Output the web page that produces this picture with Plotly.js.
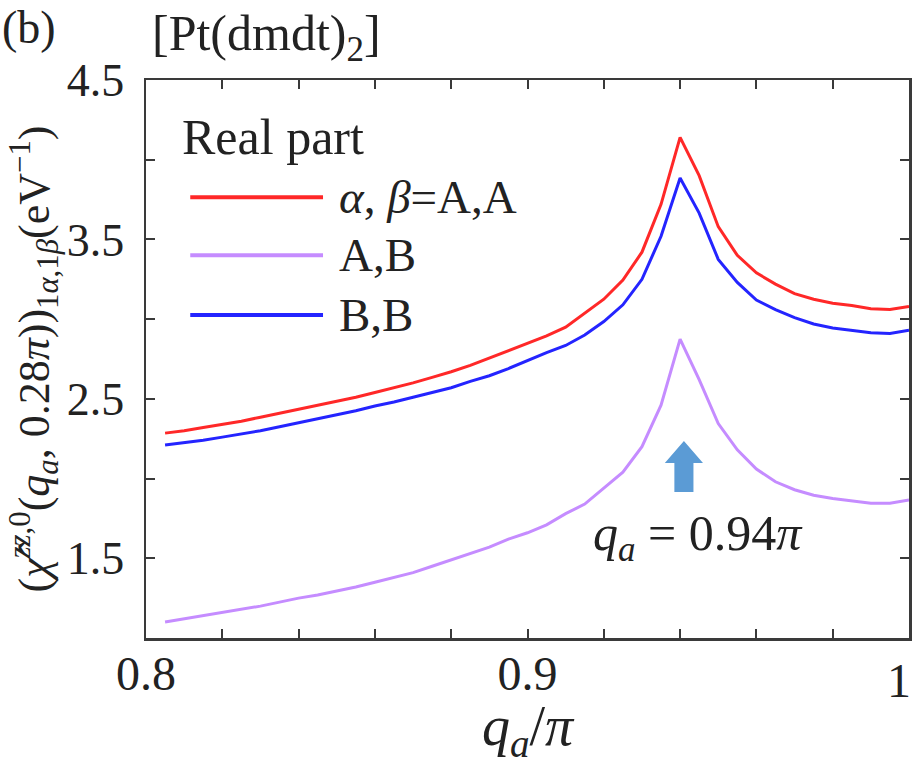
<!DOCTYPE html>
<html>
<head>
<meta charset="utf-8">
<script src="https://cdn.plot.ly/plotly-3.0.1.min.js"></script>
<style>
  html, body { margin: 0; padding: 0; background: #fff; }
  #chart { width: 916px; height: 765px; }
</style>
</head>
<body>
<div id="chart"></div>
<script>
// q_a / pi grid
const qa = [0.805, 0.810, 0.815, 0.820, 0.825, 0.830, 0.835, 0.840, 0.845, 0.850,
            0.855, 0.860, 0.865, 0.870, 0.875, 0.880, 0.885, 0.890, 0.895, 0.900,
            0.905, 0.910, 0.915, 0.920, 0.925, 0.930, 0.935, 0.940, 0.945, 0.950,
            0.955, 0.960, 0.965, 0.970, 0.975, 0.980, 0.985, 0.990, 0.995, 1.000];

// real part, alpha,beta = A,A
const reAA = [2.285, 2.300, 2.320, 2.340, 2.360, 2.385, 2.410, 2.435, 2.460, 2.485,
              2.510, 2.540, 2.570, 2.600, 2.635, 2.670, 2.710, 2.755, 2.800, 2.850,
              2.895, 2.950, 3.035, 3.125, 3.245, 3.420, 3.720, 4.140, 3.900, 3.580,
              3.400, 3.290, 3.220, 3.160, 3.125, 3.100, 3.085, 3.065, 3.060, 3.080];

// A,B
const reAB = [1.100, 1.120, 1.140, 1.160, 1.180, 1.200, 1.225, 1.250, 1.270, 1.295,
              1.320, 1.350, 1.380, 1.410, 1.450, 1.490, 1.530, 1.570, 1.620, 1.660,
              1.710, 1.780, 1.840, 1.940, 2.040, 2.200, 2.460, 2.875, 2.620, 2.345,
              2.180, 2.060, 1.980, 1.930, 1.895, 1.875, 1.860, 1.845, 1.845, 1.865];

// B,B
const reBB = [2.210, 2.225, 2.240, 2.260, 2.280, 2.300, 2.325, 2.350, 2.375, 2.400,
              2.425, 2.455, 2.480, 2.510, 2.540, 2.570, 2.610, 2.645, 2.690, 2.740,
              2.790, 2.835, 2.900, 2.985, 3.090, 3.250, 3.520, 3.885, 3.665, 3.375,
              3.230, 3.120, 3.060, 3.010, 2.970, 2.945, 2.930, 2.915, 2.910, 2.930];

const seriesNames = ['<i>α</i>, <i>β</i>=A,A', 'A,B', 'B,B'];
const seriesColors = ['#ff2828', '#c58cff', '#2424ff'];
const seriesData = [reAA, reAB, reBB];

const xTickVals = [0.80, 0.82, 0.84, 0.86, 0.88, 0.90, 0.92, 0.94, 0.96, 0.98, 1.00];
const xTickText = ['0.8', '', '', '', '', '0.9', '', '', '', '', '1'];
const yTickVals = [1.5, 2.0, 2.5, 3.0, 3.5, 4.0, 4.5];
const yTickText = ['1.5', '', '2.5', '', '3.5', '', '4.5'];

const FONT = 'Liberation Serif, Times New Roman, serif';
const INK = '#222222';
const AXIS_COLOR = '#3a3a3a';

const traces = seriesData.map((ys, i) => ({
    x: qa,
    y: ys,
    type: 'scatter',
    mode: 'lines',
    name: seriesNames[i],
    line: { color: seriesColors[i], width: 3 },
    showlegend: false,
    hoverinfo: 'skip',
}));

// Hand-built legend (long line keys like the original)
const legendShapes = [];
const legendNotes = [
    { xref: 'paper', yref: 'paper', x: 0.044, y: 0.898, xanchor: 'left', yanchor: 'middle',
      text: 'Real part', showarrow: false, font: { family: FONT, size: 50, color: INK } },
];
const legendRows = [0.790, 0.686, 0.579];
seriesNames.forEach((name, i) => {
    legendShapes.push({
        type: 'line', xref: 'paper', yref: 'paper',
        x0: 0.058, x1: 0.232, y0: legendRows[i], y1: legendRows[i],
        line: { color: seriesColors[i], width: 4 },
    });
    legendNotes.push({
        xref: 'paper', yref: 'paper', x: 0.250, y: legendRows[i],
        xanchor: 'left', yanchor: 'middle', showarrow: false,
        text: name, font: { family: FONT, size: 47, color: INK },
    });
});

// the last x tick label sits flush with the right edge, so it is drawn right-aligned
const lastX = xTickVals[xTickVals.length - 1];
const lastXLabel = xTickText[xTickText.length - 1];
const xTickTextShown = xTickText.slice(0, -1).concat(['']);

// Block arrow pointing at the peak
const arrowX = 0.941, arrowTip = 2.235, arrowNeck = 2.097, arrowBase = 1.915;
const headHalf = 0.005, shaftHalf = 0.0025;
const arrowPath = `M ${arrowX - shaftHalf},${arrowBase} L ${arrowX - shaftHalf},${arrowNeck} ` +
    `L ${arrowX - headHalf},${arrowNeck} L ${arrowX},${arrowTip} L ${arrowX + headHalf},${arrowNeck} ` +
    `L ${arrowX + shaftHalf},${arrowNeck} L ${arrowX + shaftHalf},${arrowBase} Z`;

const layout = {
    width: 916,
    height: 765,
    margin: { l: 146, r: 7, t: 80, b: 127 },
    paper_bgcolor: '#ffffff',
    plot_bgcolor: '#ffffff',
    font: { family: FONT, color: INK },
    showlegend: false,
    xaxis: {
        range: [0.8, 1.0],
        tickvals: xTickVals,
        ticktext: xTickTextShown,
        ticks: 'inside',
        ticklen: 9,
        tickwidth: 2,
        tickcolor: AXIS_COLOR,
        ticklabelstandoff: -8,
        showline: true,
        linecolor: AXIS_COLOR,
        linewidth: 2.5,
        mirror: 'ticks',
        showgrid: false,
        zeroline: false,
        tickfont: { size: 48, family: FONT, color: INK },
        title: {
            text: '<i>q</i><sub><i>a</i></sub>/<i>π</i>',
            font: { size: 56, family: FONT, color: INK },
            standoff: 14,
        },
    },
    yaxis: {
        range: [1.0, 4.5],
        tickvals: yTickVals,
        ticktext: yTickText,
        ticks: 'inside',
        ticklen: 9,
        tickwidth: 2,
        tickcolor: AXIS_COLOR,
        ticklabelstandoff: 10,
        showline: true,
        linecolor: AXIS_COLOR,
        linewidth: 2.5,
        mirror: 'ticks',
        showgrid: false,
        zeroline: false,
        tickfont: { size: 46, family: FONT, color: INK },
        title: {
            text: '(<i>χ̂</i><sup><i>zz</i>,0</sup>(<i>q</i><sub><i>a</i></sub>, 0.28<i>π</i>))<sub>1<i>α</i>,1<i>β</i></sub>(eV<sup>−1</sup>)',
            font: { size: 44, family: FONT, color: INK },
            standoff: 4,
        },
    },
    shapes: [
        ...legendShapes,
        { type: 'path', xref: 'x', yref: 'y', path: arrowPath,
          fillcolor: '#5b9bd5', line: { width: 0 } },
    ],
    annotations: [
        ...legendNotes,
        { xref: 'x', yref: 'paper', x: lastX, y: -0.025, showarrow: false,
          xanchor: 'right', yanchor: 'top', xshift: 4,
          text: lastXLabel, font: { family: FONT, size: 48, color: INK } },
        { xref: 'x', yref: 'y', x: 0.9447, y: 1.633, showarrow: false,
          text: '<i>q</i><sub><i>a</i></sub> = 0.94<i>π</i>', font: { family: FONT, size: 50, color: INK } },
        { xref: 'paper', yref: 'paper', x: -0.192, y: 1.1434, showarrow: false,
          xanchor: 'left', yanchor: 'top', text: '(b)', font: { family: FONT, size: 46, color: INK } },
        { xref: 'paper', yref: 'paper', x: 0.005, y: 1.077, showarrow: false,
          xanchor: 'left', yanchor: 'middle', text: '[Pt(dmdt)<sub>2</sub>]', font: { family: FONT, size: 50, color: INK } },
    ],
};

Plotly.newPlot('chart', traces, layout, { staticPlot: true, displayModeBar: false });
</script>
</body>
</html>
